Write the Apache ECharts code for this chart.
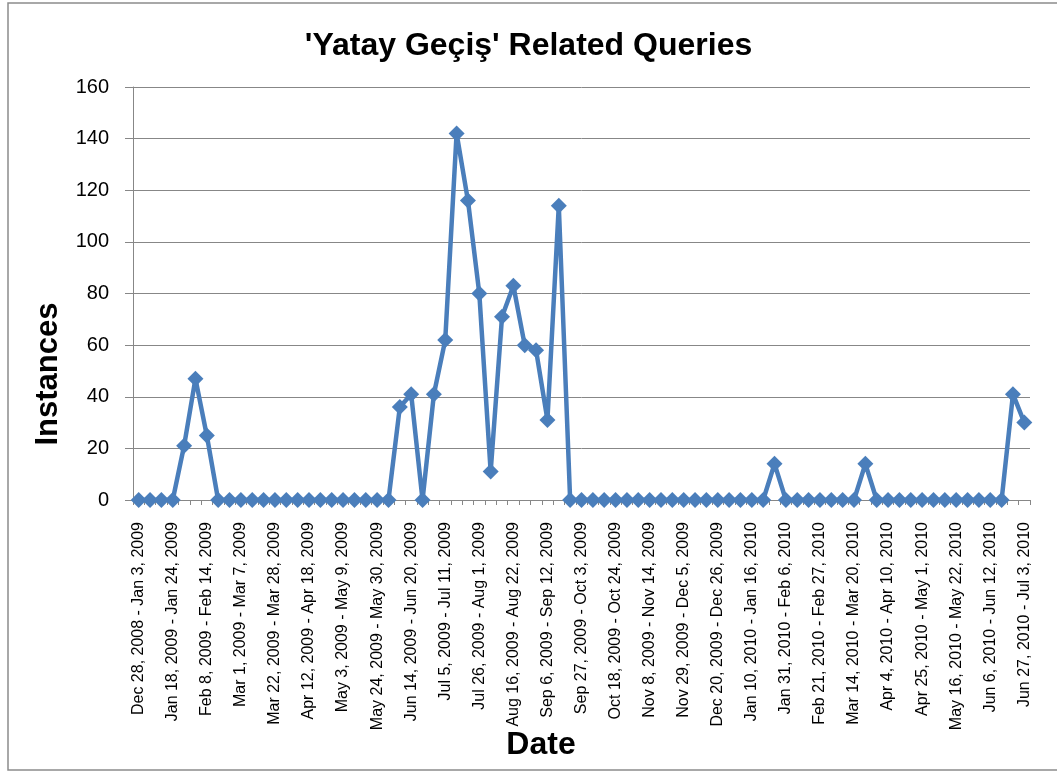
<!DOCTYPE html>
<html>
<head>
<meta charset="utf-8">
<title>'Yatay Geçiş' Related Queries</title>
<script src="https://cdn.jsdelivr.net/npm/echarts@6/dist/echarts.min.js"></script>
<style>
    html, body {
        margin: 0;
        padding: 0;
        background: #fff;
    }
    #main {
        width: 1057px;
        height: 773px;
    }
</style>
</head>
<body>
<div id="main"></div>
<script>
// weekly date ranges (category axis)
var weeks = [
    'Dec 28, 2008 - Jan 3, 2009', 'Jan 4, 2009 - Jan 10, 2009', 'Jan 11, 2009 - Jan 17, 2009',
    'Jan 18, 2009 - Jan 24, 2009', 'Jan 25, 2009 - Jan 31, 2009', 'Feb 1, 2009 - Feb 7, 2009',
    'Feb 8, 2009 - Feb 14, 2009', 'Feb 15, 2009 - Feb 21, 2009', 'Feb 22, 2009 - Feb 28, 2009',
    'Mar 1, 2009 - Mar 7, 2009', 'Mar 8, 2009 - Mar 14, 2009', 'Mar 15, 2009 - Mar 21, 2009',
    'Mar 22, 2009 - Mar 28, 2009', 'Mar 29, 2009 - Apr 4, 2009', 'Apr 5, 2009 - Apr 11, 2009',
    'Apr 12, 2009 - Apr 18, 2009', 'Apr 19, 2009 - Apr 25, 2009', 'Apr 26, 2009 - May 2, 2009',
    'May 3, 2009 - May 9, 2009', 'May 10, 2009 - May 16, 2009', 'May 17, 2009 - May 23, 2009',
    'May 24, 2009 - May 30, 2009', 'May 31, 2009 - Jun 6, 2009', 'Jun 7, 2009 - Jun 13, 2009',
    'Jun 14, 2009 - Jun 20, 2009', 'Jun 21, 2009 - Jun 27, 2009', 'Jun 28, 2009 - Jul 4, 2009',
    'Jul 5, 2009 - Jul 11, 2009', 'Jul 12, 2009 - Jul 18, 2009', 'Jul 19, 2009 - Jul 25, 2009',
    'Jul 26, 2009 - Aug 1, 2009', 'Aug 2, 2009 - Aug 8, 2009', 'Aug 9, 2009 - Aug 15, 2009',
    'Aug 16, 2009 - Aug 22, 2009', 'Aug 23, 2009 - Aug 29, 2009', 'Aug 30, 2009 - Sep 5, 2009',
    'Sep 6, 2009 - Sep 12, 2009', 'Sep 13, 2009 - Sep 19, 2009', 'Sep 20, 2009 - Sep 26, 2009',
    'Sep 27, 2009 - Oct 3, 2009', 'Oct 4, 2009 - Oct 10, 2009', 'Oct 11, 2009 - Oct 17, 2009',
    'Oct 18, 2009 - Oct 24, 2009', 'Oct 25, 2009 - Oct 31, 2009', 'Nov 1, 2009 - Nov 7, 2009',
    'Nov 8, 2009 - Nov 14, 2009', 'Nov 15, 2009 - Nov 21, 2009', 'Nov 22, 2009 - Nov 28, 2009',
    'Nov 29, 2009 - Dec 5, 2009', 'Dec 6, 2009 - Dec 12, 2009', 'Dec 13, 2009 - Dec 19, 2009',
    'Dec 20, 2009 - Dec 26, 2009', 'Dec 27, 2009 - Jan 2, 2010', 'Jan 3, 2010 - Jan 9, 2010',
    'Jan 10, 2010 - Jan 16, 2010', 'Jan 17, 2010 - Jan 23, 2010', 'Jan 24, 2010 - Jan 30, 2010',
    'Jan 31, 2010 - Feb 6, 2010', 'Feb 7, 2010 - Feb 13, 2010', 'Feb 14, 2010 - Feb 20, 2010',
    'Feb 21, 2010 - Feb 27, 2010', 'Feb 28, 2010 - Mar 6, 2010', 'Mar 7, 2010 - Mar 13, 2010',
    'Mar 14, 2010 - Mar 20, 2010', 'Mar 21, 2010 - Mar 27, 2010', 'Mar 28, 2010 - Apr 3, 2010',
    'Apr 4, 2010 - Apr 10, 2010', 'Apr 11, 2010 - Apr 17, 2010', 'Apr 18, 2010 - Apr 24, 2010',
    'Apr 25, 2010 - May 1, 2010', 'May 2, 2010 - May 8, 2010', 'May 9, 2010 - May 15, 2010',
    'May 16, 2010 - May 22, 2010', 'May 23, 2010 - May 29, 2010', 'May 30, 2010 - Jun 5, 2010',
    'Jun 6, 2010 - Jun 12, 2010', 'Jun 13, 2010 - Jun 19, 2010', 'Jun 20, 2010 - Jun 26, 2010',
    'Jun 27, 2010 - Jul 3, 2010'
];

// query counts per week
var instances = [
    0, 0, 0, 0, 21, 47, 25, 0, 0, 0,
    0, 0, 0, 0, 0, 0, 0, 0, 0, 0,
    0, 0, 0, 36, 41, 0, 41, 62, 142, 116,
    80, 11, 71, 83, 60, 58, 31, 114, 0, 0,
    0, 0, 0, 0, 0, 0, 0, 0, 0, 0,
    0, 0, 0, 0, 0, 0, 14, 0, 0, 0,
    0, 0, 0, 0, 14, 0, 0, 0, 0, 0,
    0, 0, 0, 0, 0, 0, 0, 41, 30
];

// y axis ticks
var yTicks = [0, 20, 40, 60, 80, 100, 120, 140, 160];

var axisGray = '#878787';
var lineBlue = '#4a7ebb';
var fontName = 'Liberation Sans';

var chart = echarts.init(document.getElementById('main'));

var option = {
    backgroundColor: '#fff',
    animation: false,
    title: {
        text: "'Yatay Geçiş' Related Queries",
        left: 'center',
        top: 25,
        textStyle: {
            fontFamily: fontName,
            fontSize: 32,
            fontWeight: 'bold',
            color: '#000'
        }
    },
    grid: {
        left: 133,
        right: 27,
        top: 87,
        bottom: 273
    },
    graphic: [
        {
            type: 'rect',
            shape: { x: 8, y: 3, width: 1070, height: 767 },
            style: { fill: 'none', stroke: '#8c8c8c', lineWidth: 1.5 },
            silent: true
        },
        // axis titles sit off-centre in the original, so place them by hand
        {
            type: 'text',
            x: 48,
            y: 374,
            rotation: Math.PI / 2,
            style: {
                text: 'Instances',
                fontFamily: fontName,
                fontSize: 31,
                fontWeight: 'bold',
                fill: '#000',
                align: 'center',
                verticalAlign: 'middle'
            }
        },
        {
            type: 'text',
            x: 541,
            y: 745,
            style: {
                text: 'Date',
                fontFamily: fontName,
                fontSize: 32,
                fontWeight: 'bold',
                fill: '#000',
                align: 'center',
                verticalAlign: 'middle'
            }
        }
    ],
    xAxis: {
        type: 'category',
        data: weeks,
        boundaryGap: true,
        axisLine: {
            lineStyle: { color: axisGray, width: 1 }
        },
        axisTick: {
            show: true,
            interval: 0,
            length: 5,
            lineStyle: { color: axisGray }
        },
        axisLabel: {
            interval: 2,
            rotate: 90,
            margin: 22,
            fontFamily: fontName,
            fontSize: 16,
            color: '#000'
        },
        splitLine: { show: false }
    },
    yAxis: {
        type: 'value',
        min: yTicks[0],
        max: yTicks[yTicks.length - 1],
        interval: 20,
        axisLine: {
            show: true,
            lineStyle: { color: axisGray, width: 1 }
        },
        axisTick: {
            show: true,
            length: 8,
            lineStyle: { color: axisGray }
        },
        axisLabel: {
            margin: 24,
            fontFamily: fontName,
            fontSize: 20,
            color: '#000'
        },
        splitLine: {
            show: true,
            lineStyle: { color: axisGray, width: 1 }
        }
    },
    series: [
        {
            name: 'Instances',
            type: 'line',
            data: instances,
            symbol: 'diamond',
            symbolSize: 16,
            showAllSymbol: true,
            lineStyle: { color: lineBlue, width: 4.5 },
            itemStyle: { color: lineBlue }
        }
    ]
};

chart.setOption(option);
</script>
</body>
</html>
